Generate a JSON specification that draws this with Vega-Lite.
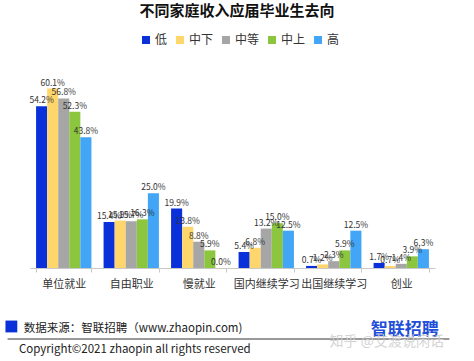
{
  "$schema": "https://vega.github.io/schema/vega-lite/v6.json",
  "padding": {"top": 4, "left": 0, "right": 0, "bottom": 0},
  "background": "white",
  "config": {"font": "Noto Sans CJK SC", "view": {"stroke": null}, "concat": {"spacing": 25}},
  "resolve": {"scale": {"x": "independent", "y": "independent", "color": "independent"}},
  "vconcat": [
    {
      "width": 474,
      "height": 203,
      "title": {"text": "不同家庭收入应届毕业生去向", "fontSize": 15, "fontWeight": "bold", "anchor": "middle", "color": "#111", "offset": 15},
      "data": {"values": [
        {"去向": "单位就业", "收入": "低", "value": 54.2},
        {"去向": "单位就业", "收入": "中下", "value": 60.1},
        {"去向": "单位就业", "收入": "中等", "value": 56.8},
        {"去向": "单位就业", "收入": "中上", "value": 52.3},
        {"去向": "单位就业", "收入": "高", "value": 43.8},
        {"去向": "自由职业", "收入": "低", "value": 15.4},
        {"去向": "自由职业", "收入": "中下", "value": 15.9},
        {"去向": "自由职业", "收入": "中等", "value": 15.7},
        {"去向": "自由职业", "收入": "中上", "value": 16.3},
        {"去向": "自由职业", "收入": "高", "value": 25.0},
        {"去向": "慢就业", "收入": "低", "value": 19.9},
        {"去向": "慢就业", "收入": "中下", "value": 13.8},
        {"去向": "慢就业", "收入": "中等", "value": 8.8},
        {"去向": "慢就业", "收入": "中上", "value": 5.9},
        {"去向": "慢就业", "收入": "高", "value": 0.0},
        {"去向": "国内继续学习", "收入": "低", "value": 5.4},
        {"去向": "国内继续学习", "收入": "中下", "value": 6.8},
        {"去向": "国内继续学习", "收入": "中等", "value": 13.2},
        {"去向": "国内继续学习", "收入": "中上", "value": 15.0},
        {"去向": "国内继续学习", "收入": "高", "value": 12.5},
        {"去向": "出国继续学习", "收入": "低", "value": 0.7},
        {"去向": "出国继续学习", "收入": "中下", "value": 1.2},
        {"去向": "出国继续学习", "收入": "中等", "value": 2.3},
        {"去向": "出国继续学习", "收入": "中上", "value": 5.9},
        {"去向": "出国继续学习", "收入": "高", "value": 12.5},
        {"去向": "创业", "收入": "低", "value": 1.7},
        {"去向": "创业", "收入": "中下", "value": 0.7},
        {"去向": "创业", "收入": "中等", "value": 1.4},
        {"去向": "创业", "收入": "中上", "value": 3.9},
        {"去向": "创业", "收入": "高", "value": 6.3}
      ]},
      "transform": [{"calculate": "format(datum.value, '.1f') + '%'", "as": "label"}],
      "encoding": {
        "x": {"field": "去向", "type": "nominal", "sort": ["单位就业", "自由职业", "慢就业", "国内继续学习", "出国继续学习", "创业"],
          "scale": {"range": [30, 435], "paddingInner": 0.18, "paddingOuter": 0.09},
          "axis": {"title": null, "labelAngle": 0, "labelFontSize": 11, "labelColor": "#333", "domainColor": "#c8c8c8", "tickColor": "#c8c8c8", "tickBand": "extent", "tickSize": 4, "labelPadding": 6}},
        "xOffset": {"field": "收入", "type": "nominal", "sort": ["低", "中下", "中等", "中上", "高"]},
        "y": {"field": "value", "type": "quantitative", "scale": {"domain": [0, 68]}, "axis": null}
      },
      "layer": [
        {"mark": {"type": "bar"},
         "encoding": {"color": {"field": "收入", "type": "nominal", "sort": ["低", "中下", "中等", "中上", "高"],
           "scale": {"domain": ["低", "中下", "中等", "中上", "高"], "range": ["#0a30d9", "#ffd66b", "#a6a6a6", "#8cc63f", "#42a5f5"]},
           "legend": {"orient": "none", "legendX": 140, "legendY": -31, "direction": "horizontal", "title": null, "symbolType": "square", "symbolSize": 64, "labelFontSize": 12, "labelColor": "#333", "columnPadding": 6, "symbolStrokeWidth": 0, "labelOffset": 3}}}},
        {"mark": {"type": "text", "dy": -6, "fontSize": 8.5, "color": "#333"},
         "encoding": {"text": {"field": "label"}}}
      ]
    },
    {
      "width": 474,
      "height": 48,
      "data": {"values": [{}]},
      "layer": [
        {"mark": {"type": "point", "shape": "square", "filled": true, "size": 140, "color": "#0a30d9", "opacity": 1},
         "encoding": {"x": {"datum": 12, "type": "quantitative", "scale": {"domain": [0, 474]}, "axis": null}, "y": {"datum": 13, "type": "quantitative", "scale": {"domain": [0, 48], "reverse": true}, "axis": null}}},
        {"mark": {"type": "text", "align": "left", "baseline": "middle", "fontSize": 11.5, "color": "#222"},
         "encoding": {"x": {"datum": 25, "type": "quantitative"}, "y": {"datum": 16, "type": "quantitative"}, "text": {"value": "数据来源：智联招聘（www.zhaopin.com)"}}},
        {"mark": {"type": "rule", "color": "#777", "strokeWidth": 1.5},
         "encoding": {"x": {"datum": 8, "type": "quantitative"}, "x2": {"datum": 474}, "y": {"datum": 26, "type": "quantitative"}}},
        {"mark": {"type": "text", "align": "left", "baseline": "middle", "fontSize": 11.5, "color": "#222"},
         "encoding": {"x": {"datum": 20, "type": "quantitative"}, "y": {"datum": 37, "type": "quantitative"}, "text": {"value": "Copyright©2021 zhaopin all rights reserved"}}},
        {"mark": {"type": "text", "align": "center", "baseline": "middle", "fontSize": 17, "fontWeight": "bold", "color": "#1f4fd8"},
         "encoding": {"x": {"datum": 427, "type": "quantitative"}, "y": {"datum": 17, "type": "quantitative"}, "text": {"value": "智联招聘"}}},
        {"mark": {"type": "text", "align": "center", "baseline": "middle", "fontSize": 14, "color": "#d0d0d0", "opacity": 0.9},
         "encoding": {"x": {"datum": 408, "type": "quantitative"}, "y": {"datum": 29, "type": "quantitative"}, "text": {"value": "知乎 @艾渡说闲话"}}}
      ]
    }
  ]
}
